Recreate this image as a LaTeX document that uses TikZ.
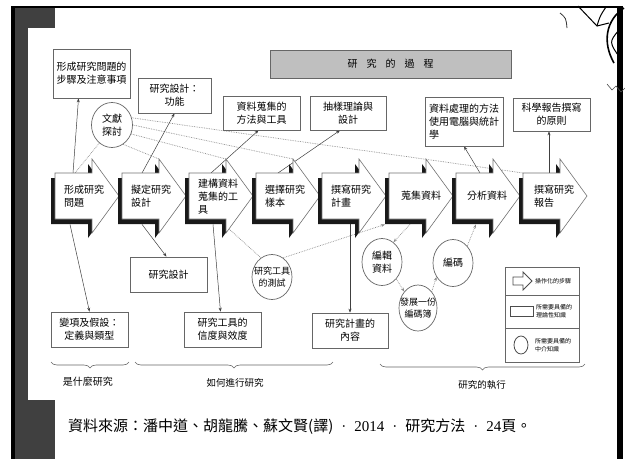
\documentclass[tikz,border=0pt]{standalone}
\usepackage{fontspec}
\setmainfont{Noto Sans CJK TC}
\newfontfamily\numfont{Liberation Serif}
\usepackage{tikz}
\usetikzlibrary{shapes.geometric, arrows.meta, decorations.pathreplacing, backgrounds}

% outline of one step arrow, body on the left and head to the right
\newcommand{\steppath}{(0,173) -- (37,173) -- (37,159) -- (64,196) -- (37,233) -- (37,219) -- (0,219) -- cycle}
% separator dot in the source line
\newcommand{\srcdot}{{\numfont\hspace{8pt}·\hspace{8pt}}}

\begin{document}
\begin{tikzpicture}[x=1pt, y=-1pt,
  every node/.style={font=\fontsize{10}{13}\selectfont, inner sep=0pt, align=center},
  stepshadow/.style={fill=black!90},
  stepfill/.style={fill=white, draw=black!55, line width=0.6pt},
  steptext/.style={anchor=north west, minimum height=46pt, inner xsep=9pt, align=left},
  knowbox/.style={draw=black!60, line width=0.7pt, fill=white},
  knowcirc/.style={ellipse, draw=black!60, line width=0.7pt, fill=white, minimum width=41pt, minimum height=45pt},
  keytext/.style={anchor=west, align=left, font=\fontsize{6}{8.5}\selectfont},
  linkarrow/.style={draw=black!75, line width=0.5pt, -{Stealth[length=4pt, width=3pt]}},
  hintline/.style={draw=black!45, line width=0.7pt, densely dotted},
  hintto/.style={hintline, -{Stealth[length=4pt, width=3pt]}},
  spanbrace/.style={draw=black!60, line width=0.6pt, decorate, decoration={brace, mirror, amplitude=6pt}},
  ]
  \useasboundingbox (0,0) rectangle (625,459);

  % slide frame
  \begin{scope}[on background layer]
    \fill[white] (0,0) rectangle (625,459);
    \fill[black] (11,6) rectangle (623,8);
    \fill[black] (11,6) rectangle (15,459);
    \fill[black!75] (15,8) rectangle (28,459);
    \fill[black!75] (15,8) rectangle (55,28);
    \fill[black!75] (15,400) rectangle (55,459);
    \fill[black] (617,6) rectangle (623,459);
  \end{scope}

  % scribbles in the corner
  \draw[black!80, line width=0.8pt] (560,13) .. controls (566,18) .. (567,28);
  \draw[black, line width=1pt] (578,6) -- (597,26) -- (609,23);
  \draw[black, line width=1pt] (597,26) .. controls (600,16) .. (606,7);
  \draw[black, line width=1.6pt] (624,8) .. controls (606,20) and (602,42) .. (614,63);
  \draw[black, line width=1pt] (619,30) .. controls (609,42) .. (620,58);
  \draw[black!70, line width=0.6pt] (607,84) -- (612,90) -- (616,86) -- (621,92) -- (625,88);

  % title bar
  \node[draw=black!60, line width=0.7pt, fill=black!25, minimum width=241pt, minimum height=28pt] (title) at (390.5,64) {研\hspace{9pt}究\hspace{9pt}的\hspace{9pt}過\hspace{9pt}程};

  % the eight steps
  \fill[stepshadow, shift={(51,5)}] \steppath;
  \filldraw[stepfill, shift={(55,0)}] \steppath;
  \node[steptext] (problem) at (55,173) {形成研究\\問題};
  \fill[stepshadow, shift={(118,5)}] \steppath;
  \filldraw[stepfill, shift={(122,0)}] \steppath;
  \node[steptext] (design) at (122,173) {擬定研究\\設計};
  \fill[stepshadow, shift={(185,5)}] \steppath;
  \filldraw[stepfill, shift={(189,0)}] \steppath;
  \node[steptext] (instrument) at (189,173) {建構資料\\蒐集的工\\具};
  \fill[stepshadow, shift={(252,5)}] \steppath;
  \filldraw[stepfill, shift={(256,0)}] \steppath;
  \node[steptext] (sample) at (256,173) {選擇研究\\樣本};
  \fill[stepshadow, shift={(318,5)}] \steppath;
  \filldraw[stepfill, shift={(322,0)}] \steppath;
  \node[steptext] (proposal) at (322,173) {撰寫研究\\計畫};
  \fill[stepshadow, shift={(385,5)}] \steppath;
  \filldraw[stepfill, shift={(389,0)}] \steppath;
  \node[steptext, inner xsep=12pt] (collect) at (389,173) {蒐集資料};
  \fill[stepshadow, shift={(452,5)}] \steppath;
  \filldraw[stepfill, shift={(456,0)}] \steppath;
  \node[steptext, inner xsep=11pt] (analyze) at (456,173) {分析資料};
  \fill[stepshadow, shift={(519,5)}] \steppath;
  \filldraw[stepfill, shift={(523,0)}] \steppath;
  \node[steptext, inner xsep=11pt] (report) at (523,173) {撰寫研究\\報告};

  % theoretical knowledge
  \node[knowbox, minimum width=77pt, minimum height=49pt] (steps) at (91.5,73.5) {形成研究問題的\\步驟及注意事項};
  \node[knowbox, minimum width=73pt, minimum height=35pt] (func) at (174.5,95.5) {研究設計：\\功能};
  \node[knowbox, minimum width=77pt, minimum height=34pt] (methods) at (261.5,113) {資料蒐集的\\方法與工具};
  \node[knowbox, minimum width=76pt, minimum height=34pt] (theory) at (348,113) {抽樣理論與\\設計};
  \node[knowbox, minimum width=78pt, minimum height=49pt, align=left] (dataproc) at (464,121.5) {資料處理的方法\\使用電腦與統計\\學};
  \node[knowbox, minimum width=77pt, minimum height=33pt] (writing) at (551.5,114.5) {科學報告撰寫\\的原則};
  \node[knowbox, minimum width=77pt, minimum height=35pt] (rdesign) at (168.5,274.5) {研究設計};
  \node[knowbox, minimum width=77pt, minimum height=35pt] (vars) at (89.5,329.5) {變項及假設：\\定義與類型};
  \node[knowbox, minimum width=77pt, minimum height=35pt] (relia) at (222.5,329.5) {研究工具的\\信度與效度};
  \node[knowbox, minimum width=76pt, minimum height=35pt] (content) at (350,330.5) {研究計畫的\\內容};

  % intermediate knowledge
  \node[knowcirc] (lit) at (112,125) {};
  \node (lit-t) at (lit) {文獻\\探討};
  \node[knowcirc, minimum width=40pt] (pilot) at (272,277) {};
  \node[font=\fontsize{9}{12}\selectfont] (pilot-t) at (pilot) {研究工具\\的測試};
  \node[knowcirc, minimum width=40pt, minimum height=47pt] (edit) at (382,262) {};
  \node (edit-t) at (edit) {編輯\\資料};
  \node[knowcirc, minimum width=40pt, minimum height=47pt] (code) at (453,263) {};
  \node (code-t) at (code) {編碼};
  \node[knowcirc, minimum width=38pt, minimum height=46pt] (codebook) at (418,308) {};
  \node[font=\fontsize{9}{12}\selectfont] (codebook-t) at (codebook) {發展一份\\編碼簿};

  % legend
  \node[knowbox, minimum width=74pt, minimum height=95pt] (key) at (542,314.5) {};
  \draw[black!60, line width=0.7pt] (505,295) -- (579,295);
  \draw[black!60, line width=0.7pt] (505,328) -- (579,328);
  \draw[black!70, line width=0.8pt] (513,277) -- (523,277) -- (523,272) -- (532,281) -- (523,290) -- (523,285) -- (513,285) -- cycle;
  \node[keytext] (key-step) at (535,281) {操作化的步驟};
  \draw[black!70, line width=0.8pt] (510,306) rectangle (533,316);
  \node[keytext] (key-theory) at (536,311) {所需要具備的\\理論性知識};
  \draw[black!70, line width=0.8pt] (521,345) ellipse [x radius=7, y radius=9];
  \node[keytext] (key-mediate) at (535,345) {所需要具備的\\中介知識};

  % braces under the three phases
  \draw[spanbrace] (51,362) -- (129,362);
  \node[font=\fontsize{10}{12}\selectfont] (what) at (88,382) {是什麼研究};
  \draw[spanbrace] (135,362) -- (333,362);
  \node[font=\fontsize{9.5}{12}\selectfont] (how) at (235,383) {如何進行研究};
  \draw[spanbrace] (380,364) -- (585,364);
  \node[font=\fontsize{9.5}{12}\selectfont] (run) at (482,385) {研究的執行};

  % source line
  \node[anchor=west, font=\fontsize{15}{18}\selectfont] (source) at (68,427) {資料來源：潘中道、胡龍騰、蘇文賢(譯)\srcdot{\numfont 2014}\srcdot 研究方法\srcdot{\numfont 24}頁。};

  % connectors
  \begin{scope}[on background layer]
    \draw[hintline] (lit.235) -- ([xshift=20pt]problem.north west);
    \draw[hintline] (lit.300) -- ([xshift=37pt, yshift=14pt]design.north west);
    \draw[hintline] (lit.335) -- ([xshift=37pt, yshift=14pt]instrument.north west);
    \draw[hintline] (lit.0) -- ([xshift=37pt, yshift=14pt]sample.north west);
    \draw[hintline] (lit.20) -- (report.north west);
    \draw[hintline] ([xshift=35pt, yshift=-5pt]instrument.south west) -- (pilot.120);
    \draw[hintto] (pilot.60) -- ([shift={(-4pt,-5pt)}]collect.south west);
    \draw[hintto] ([xshift=21pt, yshift=-5pt]collect.south west) -- (edit.60);
    \draw[hintto] (edit.-50) -- (codebook.130);
    \draw[hintto] (codebook.50) -- (code.220);
    \draw[hintto] (code.50) -- ([shift={(20pt,-5pt)}]analyze.south west);

    \draw[linkarrow] ([xshift=18pt]problem.north west) -- ([xshift=-13pt]steps.south);
    \draw[linkarrow] ([xshift=15pt, yshift=-5pt]problem.south west) -- (vars.north);
    \draw[linkarrow] ([xshift=20pt]design.north west) -- (func.south);
    \draw[linkarrow] ([xshift=20pt, yshift=-5pt]design.south west) -- ([xshift=-2pt]rdesign.north);
    \draw[linkarrow] ([xshift=22pt]instrument.north west) -- ([xshift=-3pt]methods.south);
    \draw[linkarrow] ([xshift=24pt, yshift=-5pt]instrument.south west) -- ([xshift=-2pt]relia.north);
    \draw[linkarrow] ([xshift=22pt]sample.north west) -- ([xshift=-8pt]theory.south);
    \draw[linkarrow] ([xshift=28pt]proposal.south west) -- ([xshift=28pt]proposal.south west |- content.north);
    \draw[linkarrow] ([xshift=24pt]analyze.north west) -- (dataproc.south);
    \draw[linkarrow] ([xshift=26pt]report.north west) -- ([xshift=26pt]report.north west |- writing.south);
  \end{scope}
\end{tikzpicture}
\end{document}
